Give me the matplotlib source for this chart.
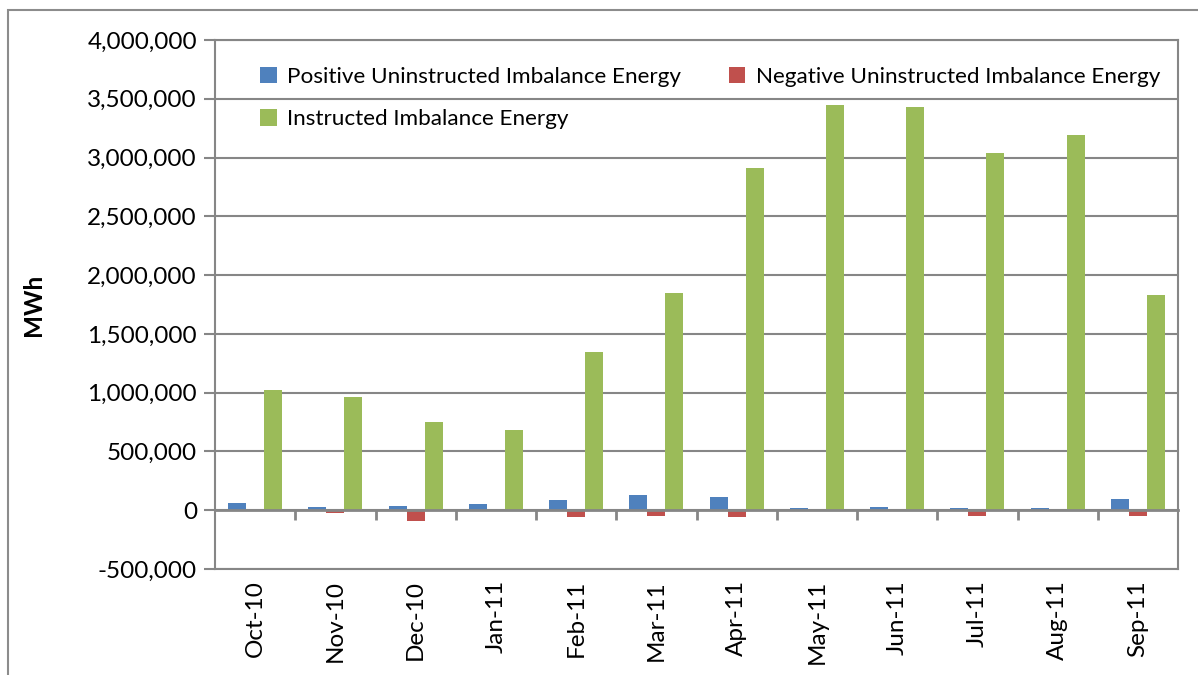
import matplotlib.pyplot as plt
from matplotlib.ticker import FuncFormatter
import numpy as np

# ==================== DATA ====================

months = ['Oct-10', 'Nov-10', 'Dec-10', 'Jan-11', 'Feb-11', 'Mar-11',
          'Apr-11', 'May-11', 'Jun-11', 'Jul-11', 'Aug-11', 'Sep-11']

positive_uie = [65000, 30000, 40000, 57000, 85000, 130000,
                110000, 15000, 25000, 18000, 22000, 95000]
negative_uie = [-3000, -20000, -90000, -10000, -55000, -50000,
                -60000, -8000, -8000, -45000, -3000, -50000]
instructed_ie = [1020000, 962000, 750000, 681000, 1345000, 1847000,
                 2911000, 3447000, 3430000, 3038000, 3191000, 1830000]

# ==================== STYLE ====================

plt.rcParams['font.family'] = ['Lato', 'DejaVu Sans']
TICK_SIZE = 17.5
LEGEND_SIZE = 16.2
GREY = '#868686'
BLUE = '#4F81BD'
RED = '#C0504D'
GREEN = '#9BBB59'

fig = plt.figure(figsize=(11.98, 6.75), dpi=100)
ax = fig.add_axes([215 / 1198, 1 - 569 / 675, (1178 - 215) / 1198, (569 - 40) / 675])

# outer chart border (cropped at right and bottom)
border = plt.Rectangle((8 / 1198, -0.2), 1.5, 1.2 - 10 / 675, transform=fig.transFigure,
                       fill=False, edgecolor='#8c8c8c', linewidth=1.5, clip_on=False)
fig.patches.append(border)

x = np.arange(len(months))
w = 0.224

b1 = ax.bar(x - w, positive_uie, w, color=BLUE, zorder=3,
            label='Positive Uninstructed Imbalance Energy')
b2 = ax.bar(x, negative_uie, w, color=RED, zorder=3,
            label='Negative Uninstructed Imbalance Energy')
b3 = ax.bar(x + w, instructed_ie, w, color=GREEN, zorder=3,
            label='Instructed Imbalance Energy')

ax.set_xlim(-0.5, len(months) - 0.5)
ax.set_ylim(-500000, 4000000)
ax.set_yticks(np.arange(-500000, 4000001, 500000))
ax.yaxis.set_major_formatter(FuncFormatter(lambda v, p: f'{int(v):,}'))
ax.tick_params(axis='y', direction='out', length=8, width=1.5, color=GREY,
               labelsize=TICK_SIZE, pad=5)
ax.grid(axis='y', color=GREY, linewidth=1.5, zorder=0)
ax.set_axisbelow(True)

for side in ['top', 'right', 'left']:
    ax.spines[side].set_color(GREY)
    ax.spines[side].set_linewidth(1.5)

# category axis crosses at zero, tick marks between categories
ax.spines['bottom'].set_position(('data', 0))
ax.spines['bottom'].set_color(GREY)
ax.spines['bottom'].set_linewidth(2)
ax.spines['bottom'].set_zorder(4)
ax.set_xticks(x[:-1] + 0.5)
ax.set_xticklabels([])
ax.tick_params(axis='x', direction='out', length=7, width=2, color=GREY)

# labels sit at the bottom of the plot area
sec = ax.secondary_xaxis(0.0)
sec.set_xticks(x)
sec.set_xticklabels(months, rotation=90, fontsize=TICK_SIZE)
sec.tick_params(length=0, pad=8)
sec.spines['bottom'].set_color(GREY)
sec.spines['bottom'].set_linewidth(1.5)

ax.set_ylabel('MWh', fontsize=TICK_SIZE, fontweight='bold')
ax.yaxis.set_label_coords(-0.1765, 0.5)

handles = [b1, b3, b2]
ax.legend(handles=handles, labels=[h.get_label() for h in handles], ncol=2,
          loc='upper left', bbox_to_anchor=(0.026, 0.988), frameon=False,
          fontsize=LEGEND_SIZE, handlelength=0.75, handleheight=0.75,
          handletextpad=0.45, columnspacing=2.1, labelspacing=1.0)

fig.savefig('out.png', dpi=100)
